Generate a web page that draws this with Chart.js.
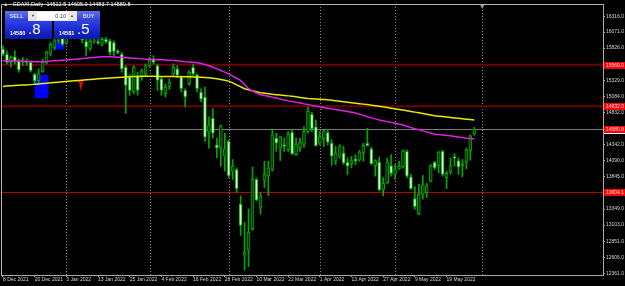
<!DOCTYPE html>
<html>
<head>
<meta charset="utf-8">
<script src="https://cdn.jsdelivr.net/npm/chart.js@4.4.1/dist/chart.umd.min.js"></script>
<style>
html, body { margin: 0; padding: 0; background: #000; }
#wrap { position: relative; width: 625px; height: 286px; overflow: hidden; }
canvas { display: block; }
#title { position: absolute; left: 3px; top: 1px; color: #ffffff; font: 5.5px 'Liberation Sans', sans-serif; white-space: nowrap; }
#title span { color: #c0c0c0; margin-right: 4px; }
#panel { position: absolute; left: 5px; top: 11px; width: 95px; height: 28px; font-family: 'Liberation Sans', sans-serif; }
.hd { position: absolute; top: 0; height: 10px; background: linear-gradient(#6070ee, #2c3cd6); color: #d8deff; font: bold 5.5px 'Liberation Sans', sans-serif; text-align: center; line-height: 10px; }
#lot { position: absolute; left: 23px; top: 0; width: 49px; height: 10px; background: #e8e8e8; }
#lot .in { position: absolute; left: 9px; top: 1px; width: 31px; height: 8px; background: #fff; color: #333; font: 5.5px 'Liberation Sans', sans-serif; text-align: right; line-height: 8px; padding-right: 2px; box-sizing: border-box; }
#lot .sp { position: absolute; top: 1px; width: 8px; height: 8px; color: #444; font-size: 4px; line-height: 8px; text-align: center; }
.px { position: absolute; top: 10px; height: 18px; background: linear-gradient(#2e42e6, #1424c8 60%, #0c1aa8); color: #fff; }
.px .sm { position: absolute; left: 5px; bottom: 3px; font: bold 5.5px 'Liberation Sans', sans-serif; }
.px .bg { position: absolute; left: 23px; top: -1px; font: 15px 'Liberation Sans', sans-serif; }
</style>
</head>
<body>
<div id="wrap">
<canvas id="chart" width="625" height="286"></canvas>
<div id="title"><span>&#9650;</span>GDAXI,Daily&nbsp; 14512.5 14605.0 14483.7 14580.8</div>
<div id="panel">
  <div class="hd" style="left:0;width:23px;">SELL</div>
  <div id="lot"><div class="sp" style="left:1px;">&#9660;</div><div class="in">0.10</div><div class="sp" style="left:40px;">&#9650;</div></div>
  <div class="hd" style="left:72px;width:23px;">BUY</div>
  <div class="px" style="left:0;width:47px;"><span class="sm">14580</span><span class="bg">.8</span></div>
  <div class="px" style="left:49px;width:46px;"><span class="sm">14581</span><span class="bg">.5</span></div>
</div>
</div>
<script>
// daily candles, GDAXI
const dates = [
  '8 Dec 2021','9 Dec 2021','10 Dec 2021','13 Dec 2021','14 Dec 2021','15 Dec 2021','16 Dec 2021','17 Dec 2021',
  '20 Dec 2021','21 Dec 2021','22 Dec 2021','23 Dec 2021','27 Dec 2021','28 Dec 2021','29 Dec 2021','30 Dec 2021',
  '3 Jan 2022','4 Jan 2022','5 Jan 2022','6 Jan 2022','7 Jan 2022','10 Jan 2022','11 Jan 2022','12 Jan 2022',
  '13 Jan 2022','14 Jan 2022','17 Jan 2022','18 Jan 2022','19 Jan 2022','20 Jan 2022','21 Jan 2022','24 Jan 2022',
  '25 Jan 2022','26 Jan 2022','27 Jan 2022','28 Jan 2022','31 Jan 2022','1 Feb 2022','2 Feb 2022','3 Feb 2022',
  '4 Feb 2022','7 Feb 2022','8 Feb 2022','9 Feb 2022','10 Feb 2022','11 Feb 2022','14 Feb 2022','15 Feb 2022',
  '16 Feb 2022','17 Feb 2022','18 Feb 2022','21 Feb 2022','22 Feb 2022','23 Feb 2022','24 Feb 2022','25 Feb 2022',
  '28 Feb 2022','1 Mar 2022','2 Mar 2022','3 Mar 2022','4 Mar 2022','7 Mar 2022','8 Mar 2022','9 Mar 2022',
  '10 Mar 2022','11 Mar 2022','14 Mar 2022','15 Mar 2022','16 Mar 2022','17 Mar 2022','18 Mar 2022','21 Mar 2022',
  '22 Mar 2022','23 Mar 2022','24 Mar 2022','25 Mar 2022','28 Mar 2022','29 Mar 2022','30 Mar 2022','31 Mar 2022',
  '1 Apr 2022','4 Apr 2022','5 Apr 2022','6 Apr 2022','7 Apr 2022','8 Apr 2022','11 Apr 2022','12 Apr 2022',
  '13 Apr 2022','14 Apr 2022','19 Apr 2022','20 Apr 2022','21 Apr 2022','22 Apr 2022','25 Apr 2022','26 Apr 2022',
  '27 Apr 2022','28 Apr 2022','29 Apr 2022','2 May 2022','3 May 2022','4 May 2022','5 May 2022','6 May 2022',
  '9 May 2022','10 May 2022','11 May 2022','12 May 2022','13 May 2022','16 May 2022','17 May 2022','18 May 2022',
  '19 May 2022','20 May 2022','23 May 2022','24 May 2022','25 May 2022','26 May 2022','27 May 2022','30 May 2022'
];

const opens = [
  15808,15732,15606,15692,15631,15610,15600,15606, 15420,15320,15460,15606,15732,15834,15935,15990,
  15900,16030,16150,16240,16060,15925,15820,15930, 15915,15884,15960,15935,15910,15775,15732,15530,
  15378,15149,15403,15378,15428,15555,15656,15555, 15352,15124,15226,15428,15504,15378,15175,15276,
  15530,15415,15150,15073,14531,14744,14338,14288, 14161,14389,13933,13958,13426,12640,12716,13046,
  13806,13375,13791,13857,13958,14440,14288,14338, 14262,14531,14186,14288,14348,14541,14805,14612,
  14364,14430,14526,14364,14085,14160,14211,14069, 14044,14120,14100,14211,14363,14277,14018,14069,
  13643,13755,14018,13882,13968,13998,14237,13846, 13512,13273,13577,13600,13780,14069,14018,14237,
  13831,13917,14155,14094,14018,14074,14247,14512.5
];
const highs = [
  15859,15783,15707,15783,15656,15682,15660,15631, 15440,15504,15656,15783,15910,15960,16010,16000,
  16060,16180,16290,16270,16100,15960,15960,16000, 15960,15985,15990,15960,15935,15800,15758,15555,
  15420,15555,15454,15504,15580,15680,15707,15580, 15378,15276,15352,15580,15555,15400,15200,15480,
  15580,15428,15200,15226,14769,14896,14440,14642, 14516,14414,14110,13983,13552,13147,13350,13994,
  13831,13603,14085,14085,14567,14516,14465,14440, 14541,14567,14440,14440,14617,14921,14835,14719,
  14541,14567,14567,14414,14313,14340,14313,14135, 14160,14186,14252,14363,14591,14302,14110,14150,
  13831,14135,14186,14034,14084,14262,14262,13882, 13694,13729,13866,13745,14034,14084,14237,14252,
  13932,14135,14201,14135,14110,14287,14490,14605.0
];
const lows = [
  15707,15580,15530,15580,15454,15555,15560,15454, 15280,15276,15454,15580,15707,15800,15900,15860,
  15880,16000,16120,16020,15900,15707,15790,15900, 15880,15860,15900,15720,15707,15740,15454,14820,
  15100,15124,15100,15327,15400,15530,15580,15175, 15100,15073,15190,15400,15378,15150,14921,15250,
  15400,15150,14997,14389,14288,14440,14136,14009, 13933,13832,13806,13603,12944,12412,12462,13020,
  13476,13274,13679,13553,13933,14237,14095,14237, 14237,14186,14176,14237,14298,14516,14541,14313,
  14338,14313,14338,14024,14034,14130,14034,13882, 13983,14034,14084,14084,14313,14034,13856,13628,
  13552,13745,13856,13806,13958,13983,13831,13653, 13349,13263,13501,13527,13765,13958,13907,13856,
  13663,13882,14008,13882,13846,13968,14100,14483.7
];
const closes = [
  15732,15606,15682,15621,15489,15650,15630,15479, 15320,15440,15606,15758,15884,15935,15990,15880,
  16030,16150,16260,16060,15950,15844,15930,15950, 15905,15960,15920,15758,15773,15758,15504,15251,
  15175,15530,15175,15479,15555,15640,15606,15327, 15175,15226,15302,15530,15403,15200,15073,15454,
  15428,15200,15038,14455,14642,14516,14288,14627, 14277,13857,14009,13664,13096,12690,12995,13806,
  13487,13553,13882,13983,14490,14364,14465,14313, 14500,14196,14348,14374,14541,14856,14582,14323,
  14465,14551,14379,14161,14211,14312,14059,14008, 14094,14084,14226,14328,14323,14044,14094,13643,
  13745,14074,13897,13958,14008,14247,13856,13663, 13385,13577,13720,13710,14018,13983,14226,13882,
  13897,14018,14135,13993,14049,14262,14475,14580.8
];

// moving averages (magenta and yellow)
const maMagenta = [
  15632,15630,15628,15626,15624,15622,15620,15618,15616,15615,15616,15620,15625,15630,15634,15637,
  15641,15646,15652,15658,15664,15670,15676,15681,15686,15690,15692,15691,15688,15684,15680,15676,
  15672,15667,15663,15659,15655,15651,15649,15647,15645,15642,15638,15634,15629,15623,15616,15611,
  15606,15600,15588,15572,15552,15530,15505,15480,15455,15428,15395,15361,15327,15265,15200,15165,
  15135,15108,15095,15083,15070,15058,15043,15028,15013,15002,14990,14979,14967,14956,14944,14932,
  14921,14910,14900,14890,14880,14870,14860,14850,14838,14825,14808,14790,14769,14752,14736,14720,
  14707,14694,14682,14670,14657,14643,14622,14602,14585,14568,14552,14535,14518,14500,14494,14488,
  14482,14476,14466,14457,14448,14439,14434,14430
];
const maYellow = [
  15236,15240,15244,15248,15252,15256,15259,15263,15267,15273,15279,15285,15290,15296,15301,15307,
  15312,15317,15322,15327,15332,15337,15342,15347,15352,15357,15361,15365,15369,15374,15378,15381,
  15385,15388,15389,15390,15390,15390,15390,15389,15389,15388,15388,15387,15386,15385,15384,15383,
  15382,15380,15378,15374,15368,15362,15352,15341,15330,15317,15290,15260,15230,15200,15183,15167,
  15152,15139,15131,15123,15115,15108,15102,15096,15090,15084,15075,15066,15057,15048,15045,15042,
  15038,15035,15032,15024,15016,15008,15000,14993,14985,14978,14970,14963,14956,14947,14939,14930,
  14921,14911,14901,14891,14881,14871,14861,14850,14840,14830,14818,14807,14795,14784,14778,14771,
  14765,14758,14751,14745,14738,14732,14725,14719
];

const priceTicks = [16316, 16071, 15826, 15329, 15084, 14832, 14342, 14090, 13845, 13349, 13103, 12851, 12606, 12361];
const levelPrices = [15569.0, 14932.0, 13604.1];
const levelColors = ['#700000', '#700000', '#c00000'];
const levelLabels = ['15569.0', '14932.0', '13604.1'];
const bidPrice = 14580.8;
const separatorIdx = [16, 37, 57, 80, 99, 121];
const futureSlots = 32;

// chart objects (rectangles and arrow), in bar index / price
const boxes = [
  { from: 8, to: 11, top: 15413, bottom: 15058 },
  { from: 13, to: 15, top: 15925, bottom: 15803 }
];
const sellArrow = { idx: 19.4, price: 15330 };

const labels = dates.concat(Array(futureSlots).fill(''));
const showTick = i => i % 8 === 0 && i < dates.length;

const mtObjects = {
  id: 'mtObjects',
  beforeDatasetsDraw(chart) {
    const { ctx, chartArea: a, scales: { x, y } } = chart;
    const slot = x.getPixelForValue(1) - x.getPixelForValue(0);
    ctx.save();
    ctx.fillStyle = '#0000ff';
    boxes.forEach(b => {
      const x0 = x.getPixelForValue(b.from), x1 = x.getPixelForValue(b.to) + slot / 2;
      const y0 = y.getPixelForValue(b.top), y1 = y.getPixelForValue(b.bottom);
      ctx.fillRect(x0, y0, x1 - x0, y1 - y0);
    });
    // month separators
    ctx.strokeStyle = '#8a8a8a';
    ctx.lineWidth = 1;
    ctx.setLineDash([1, 2]);
    separatorIdx.forEach(i => {
      const px = Math.round(x.getPixelForValue(i)) + 0.5;
      ctx.beginPath(); ctx.moveTo(px, a.top); ctx.lineTo(px, a.bottom); ctx.stroke();
    });
    ctx.setLineDash([]);
    // horizontal levels
    levelPrices.forEach((p, k) => {
      const py = y.getPixelForValue(p);
      ctx.strokeStyle = levelColors[k];
      ctx.lineWidth = k < 2 ? 2 : 1;
      ctx.beginPath(); ctx.moveTo(a.left, py); ctx.lineTo(a.right, py); ctx.stroke();
    });
    const by = Math.round(y.getPixelForValue(bidPrice)) + 0.5;
    ctx.strokeStyle = '#7c7c7c';
    ctx.lineWidth = 1;
    ctx.beginPath(); ctx.moveTo(a.left, by); ctx.lineTo(a.right, by); ctx.stroke();
    // sell arrow
    const ax = x.getPixelForValue(sellArrow.idx), ay = y.getPixelForValue(sellArrow.price);
    ctx.strokeStyle = '#ff0000';
    ctx.lineWidth = 1.5;
    ctx.beginPath();
    ctx.moveTo(ax - 2, ay + 1); ctx.lineTo(ax, ay + 1); ctx.lineTo(ax + 1, ay + 7); ctx.lineTo(ax + 3, ay - 1);
    ctx.stroke();
    ctx.restore();
  },
  afterDraw(chart) {
    const { ctx, chartArea: a, scales: { x, y } } = chart;
    ctx.save();
    ctx.strokeStyle = '#b4b4b4';
    ctx.lineWidth = 1;
    ctx.beginPath();
    ctx.moveTo(a.left + 0.5, a.bottom); ctx.lineTo(a.left + 0.5, a.top + 0.5); ctx.lineTo(a.right, a.top + 0.5);
    ctx.stroke();
    // shift marker
    const sx = x.getPixelForValue(separatorIdx[separatorIdx.length - 1]);
    ctx.fillStyle = '#9a9a9a';
    ctx.beginPath(); ctx.moveTo(sx - 2, a.top + 1); ctx.lineTo(sx + 2, a.top + 1); ctx.lineTo(sx, a.top + 5); ctx.fill();
    // price labels on the axis
    ctx.font = '5px "Liberation Sans"';
    ctx.textBaseline = 'middle';
    const tag = (p, text) => {
      const py = Math.round(y.getPixelForValue(p));
      ctx.fillStyle = '#ff0000';
      ctx.fillRect(a.right + 1, py - 3, 22, 7);
      ctx.fillStyle = '#ffe0e0';
      ctx.fillText(text, a.right + 3, py + 0.5);
    };
    levelPrices.forEach((p, k) => tag(p, levelLabels[k]));
    tag(bidPrice, bidPrice.toFixed(1));
    ctx.fillStyle = '#ffffff';
    ctx.fillRect(a.right + 1, Math.round(y.getPixelForValue(bidPrice)) + 4, 22, 1);
    ctx.restore();
  }
};

Chart.defaults.font.family = 'Liberation Sans';
Chart.defaults.color = '#d4d4d4';

new Chart(document.getElementById('chart'), {
  data: {
    labels: labels,
    datasets: [
      {
        type: 'line', label: 'MA yellow', data: maYellow, order: 1,
        borderColor: '#e8e800', borderWidth: 1.5, pointRadius: 0, tension: 0
      },
      {
        type: 'line', label: 'MA magenta', data: maMagenta, order: 0,
        borderColor: '#e020e0', borderWidth: 1.5, pointRadius: 0, tension: 0
      },
      {
        type: 'bar', label: 'body', order: 2, grouped: false,
        data: opens.map((o, i) => [o, closes[i]]),
        barThickness: 3, minBarLength: 1, borderWidth: 1, borderSkipped: false,
        borderColor: '#00a800',
        backgroundColor: opens.map((o, i) => closes[i] >= o ? '#053005' : '#d4f6cc')
      },
      {
        type: 'bar', label: 'wick', order: 3, grouped: false,
        data: lows.map((l, i) => [l, highs[i]]),
        barThickness: 1, backgroundColor: '#00a800'
      }
    ]
  },
  options: {
    responsive: false,
    animation: false,
    devicePixelRatio: 1,
    layout: { padding: { left: 1, top: 1, right: 0, bottom: 0 } },
    plugins: { legend: { display: false }, tooltip: { enabled: false } },
    scales: {
      x: {
        type: 'category',
        offset: true,
        afterFit: s => { s.height = 11; },
        border: { color: '#a8a8a8' },
        grid: {
          offset: false, drawOnChartArea: false, drawTicks: true, tickLength: 2,
          color: c => showTick(c.index) ? '#a8a8a8' : 'rgba(0,0,0,0)'
        },
        ticks: {
          autoSkip: false, maxRotation: 0, minRotation: 0, align: 'start', padding: 0,
          font: { size: 5 }, color: '#d4d4d4',
          callback: (v, i) => showTick(i) ? labels[i] : ''
        }
      },
      y: {
        position: 'right',
        min: 12335, max: 16503,
        afterFit: s => { s.width = 22; },
        afterBuildTicks: s => { s.ticks = priceTicks.map(v => ({ value: v })); },
        border: { color: '#a8a8a8' },
        grid: { drawOnChartArea: false, drawTicks: true, tickLength: 2, color: '#a8a8a8' },
        ticks: {
          autoSkip: false, padding: 1, font: { size: 5 }, color: '#d4d4d4',
          callback: v => Number(v).toFixed(1)
        }
      }
    }
  },
  plugins: [mtObjects]
});
</script>
</body>
</html>
